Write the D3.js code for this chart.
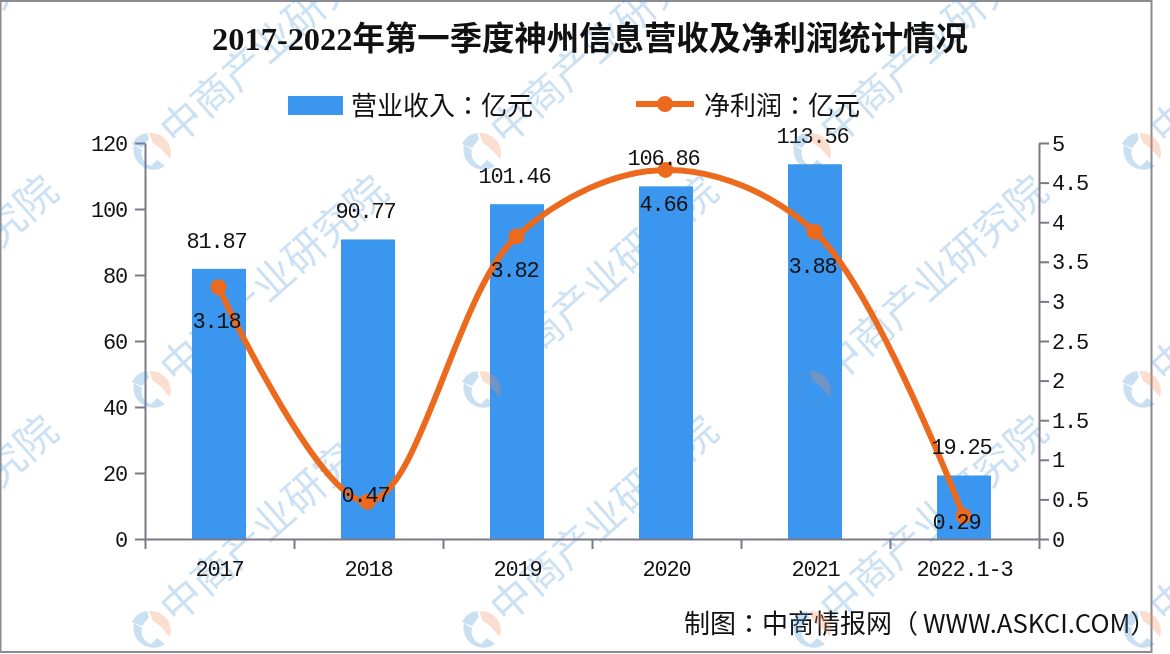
<!DOCTYPE html>
<html>
<head>
<meta charset="utf-8">
<script src="https://cdn.jsdelivr.net/npm/d3@7"></script>
<style>
html, body { margin: 0; padding: 0; background: #fff; }
svg { display: block; }
text { fill: #111; }
.mono { font-family: "Liberation Mono", "Noto Sans CJK SC", monospace; font-size: 22px; letter-spacing: -1.2px; }
</style>
</head>
<body>
<div id="chart"></div>
<script>
var categories = ["2017", "2018", "2019", "2020", "2021", "2022.1-3"];
var revenue = [81.87, 90.77, 101.46, 106.86, 113.56, 19.25];
var profit = [3.18, 0.47, 3.82, 4.66, 3.88, 0.29];
var revenueLabels = ["81.87", "90.77", "101.46", "106.86", "113.56", "19.25"];
var profitLabels = ["3.18", "0.47", "3.82", "4.66", "3.88", "0.29"];
var leftTicks = [0, 20, 40, 60, 80, 100, 120];
var rightTicks = [0, 0.5, 1, 1.5, 2, 2.5, 3, 3.5, 4, 4.5, 5];
var markX = [-180, 150, 480, 810, 1140];
var markY = [155, 393, 633];

var width = 1170, height = 654;
var plotLeft = 145, plotRight = 1039, plotTop = 143, plotBottom = 539;

var svg = d3.select("#chart").append("svg")
	.attr("width", width)
	.attr("height", height);

svg.append("rect").attr("x", 0.5).attr("y", 1).attr("width", 1151).attr("height", 651)
	.attr("fill", "#fff").attr("stroke", "#8c8c90").attr("stroke-width", 2);

var marks = [];
markY.forEach(function(my) {
	markX.forEach(function(mx) { marks.push([mx, my]); });
});

// watermark text sits under the bars
var wmText = svg.append("g").attr("opacity", 0.28);
marks.forEach(function(m) {
	wmText.append("text")
		.attr("transform", "translate(" + (m[0] + 26) + "," + (m[1] - 8) + ") rotate(-41.5)")
		.style("fill", "#4a94d2")
		.style("font-family", '"Noto Sans CJK SC", sans-serif')
		.style("font-size", "41px")
		.text("中商产业研究院");
});

var x = d3.scaleBand().domain(categories).range([plotLeft, plotRight]);
var yLeft = d3.scaleLinear().domain([0, 120]).range([plotBottom, plotTop]);
var yRight = d3.scaleLinear().domain([0, 5]).range([plotBottom, plotTop]);
var xEdges = d3.scaleLinear().domain([0, categories.length]).range([plotLeft, plotRight]);

// bars
svg.selectAll(".bar")
	.data(revenue)
	.enter()
	.append("rect")
	.attr("class", "bar")
	.attr("x", function(d, i) { return x(categories[i]) + x.bandwidth() / 2 - 27 - 0.5; })
	.attr("y", function(d) { return yLeft(d); })
	.attr("width", 54)
	.attr("height", function(d) { return plotBottom - yLeft(d); })
	.attr("fill", "#3b96ef");

// axes
function styleAxis(g) {
	g.selectAll("path, line").attr("stroke", "#7c7888").attr("stroke-width", 2);
	g.selectAll("text").attr("class", "mono").attr("fill", "#111");
}
svg.append("g")
	.attr("transform", "translate(" + plotLeft + ",0)")
	.call(d3.axisLeft(yLeft).tickValues(leftTicks).tickSize(10).tickSizeOuter(0).tickPadding(8))
	.call(styleAxis);
svg.append("g")
	.attr("transform", "translate(" + plotRight + ",0)")
	.call(d3.axisRight(yRight).tickValues(rightTicks).tickFormat(d3.format("")).tickSize(10).tickSizeOuter(0).tickPadding(3))
	.call(styleAxis);
svg.append("g")
	.attr("transform", "translate(0," + plotBottom + ")")
	.call(d3.axisBottom(xEdges).ticks(categories.length).tickFormat("").tickSize(10).tickSizeOuter(0))
	.call(styleAxis);
svg.append("g")
	.attr("transform", "translate(0," + plotBottom + ")")
	.call(d3.axisBottom(x).tickSize(0).tickPadding(21))
	.call(function(g) { g.select(".domain").remove(); })
	.call(styleAxis);

// profit line
var line = d3.line()
	.x(function(d, i) { return x(categories[i]) + x.bandwidth() / 2 - 1; })
	.y(function(d) { return yRight(d); })
	.curve(d3.curveCatmullRom.alpha(0.5));

svg.append("path")
	.datum(profit)
	.attr("d", line)
	.attr("fill", "none")
	.attr("stroke", "#ec6a1e")
	.attr("stroke-width", 6);

svg.selectAll(".point")
	.data(profit)
	.enter()
	.append("circle")
	.attr("class", "point")
	.attr("cx", function(d, i) { return x(categories[i]) + x.bandwidth() / 2 - 1; })
	.attr("cy", function(d) { return yRight(d); })
	.attr("r", 8)
	.attr("fill", "#ec6a1e");

// labels
svg.selectAll(".rev-label")
	.data(revenueLabels)
	.enter()
	.append("text")
	.attr("class", "mono")
	.attr("text-anchor", "middle")
	.attr("x", function(d, i) { return x(categories[i]) + x.bandwidth() / 2 - 3; })
	.attr("y", function(d, i) { return yLeft(revenue[i]) - 21; })
	.text(function(d) { return d; });

svg.selectAll(".profit-label")
	.data(profitLabels)
	.enter()
	.append("text")
	.attr("class", "mono")
	.attr("text-anchor", "middle")
	.attr("x", function(d, i) { return x(categories[i]) + x.bandwidth() / 2 - (i == 5 ? 8 : 3); })
	.attr("y", function(d, i) {
		// the two low points keep their label on the marker
		if (i == 1) return yRight(profit[i]);
		if (i == 5) return yRight(profit[i]) + 13;
		return yRight(profit[i]) + 41;
	})
	.text(function(d) { return d; });

// title
svg.append("text")
	.attr("x", 590).attr("y", 50)
	.attr("text-anchor", "middle")
	.style("font-family", '"Liberation Serif", "Noto Sans CJK SC", serif')
	.style("font-weight", "bold")
	.style("font-size", "32.4px")
	.text("2017-2022年第一季度神州信息营收及净利润统计情况");

// legend
svg.append("rect").attr("x", 288).attr("y", 96).attr("width", 55).attr("height", 19).attr("fill", "#3b96ef");
svg.append("text").attr("x", 351).attr("y", 115)
	.style("font-family", '"Noto Sans CJK TC", sans-serif').style("font-size", "26px")
	.text("营业收入：亿元");
svg.append("line").attr("x1", 636).attr("x2", 694).attr("y1", 104).attr("y2", 104)
	.attr("stroke", "#ec6a1e").attr("stroke-width", 6);
svg.append("circle").attr("cx", 665).attr("cy", 104).attr("r", 8).attr("fill", "#ec6a1e");
svg.append("text").attr("x", 704).attr("y", 115)
	.style("font-family", '"Noto Sans CJK TC", sans-serif').style("font-size", "26px")
	.text("净利润：亿元");

// source
var source = svg.append("text").attr("x", 684).attr("y", 633)
	.style("font-family", '"Noto Sans CJK TC", sans-serif').style("font-size", "26px");
source.append("tspan").text("制图：中商情报网（");
source.append("tspan").attr("dx", 5).style("font-size", "25.7px").text("WWW.ASKCI.COM");
source.append("tspan").text("）");

// watermark logos stay visible on the bars
var wmLogo = svg.append("g").attr("opacity", 0.3);
marks.forEach(function(m) {
	var g = wmLogo.append("g").attr("transform", "translate(" + m[0] + "," + (m[1] - 2) + ")");
	g.append("path").attr("d", "M-16,-8 A20,20 0 0 0 15,13 L7,7 L1,13 A13,13 0 0 1 -8,-3 Z").attr("fill", "#4a94d2");
	g.append("path").attr("d", "M-18,-9 A20,20 0 0 1 -3,-20 L-1,-14 L-8,-5 Z").attr("fill", "#4a94d2");
	g.append("path").attr("d", "M-1,-20 A20,20 0 0 1 20,6 L10,-5 L3,-10 Z").attr("fill", "#ee9160");
});
</script>
</body>
</html>
